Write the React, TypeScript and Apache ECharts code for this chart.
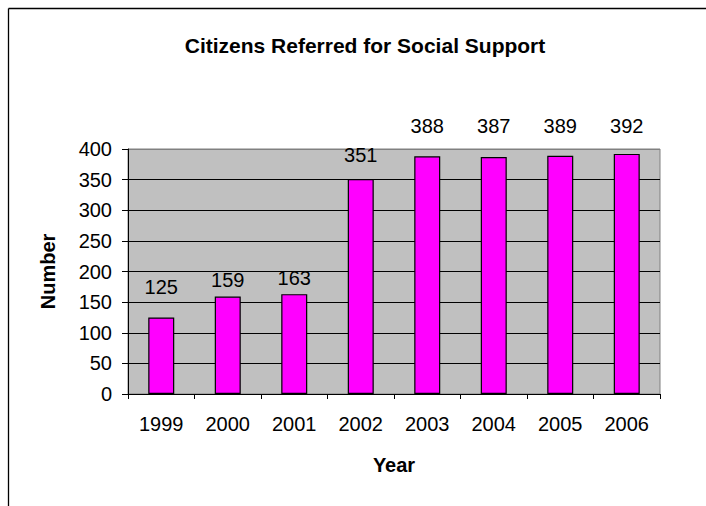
import React, { useEffect, useRef } from "react";
import * as echarts from "echarts";

const title = "Citizens Referred for Social Support";
const years = ["1999", "2000", "2001", "2002", "2003", "2004", "2005", "2006"];
const referred = [125, 159, 163, 351, 388, 387, 389, 392];
const yTicks = { min: 0, max: 400, interval: 50 };
const xName = "Year";
const yName = "Number";

// extra upward shift of each value label (styling, as in the original picture)
const labelLift = [15, 2, 1, 9, 15, 16, 15, 13];

const FONT = "Arial, 'Liberation Sans', sans-serif";

export default function App() {
  const ref = useRef<HTMLDivElement>(null);
  useEffect(() => {
    if (!ref.current) return;
    const chart = echarts.init(ref.current, null, { renderer: "svg" });
    const splitColors = [] as string[];
    const nLines = (yTicks.max - yTicks.min) / yTicks.interval + 1;
    for (let i = 0; i < nLines; i++) splitColors.push(i === nLines - 1 ? "#808080" : "#000000");
    chart.setOption({
      animation: false,
      backgroundColor: "#ffffff",
      textStyle: { fontFamily: FONT },
      title: {
        text: title,
        left: 360,
        textAlign: "center",
        top: 30,
        textStyle: { fontFamily: FONT, fontSize: 21, fontWeight: "bold", color: "#000" },
      },
      grid: {
        left: 128,
        top: 149,
        width: 532,
        height: 245,
        show: true,
        backgroundColor: "#C0C0C0",
        borderColor: "#808080",
        borderWidth: 1,
      },
      xAxis: {
        type: "category",
        data: years,
        name: xName,
        nameLocation: "middle",
        nameGap: 61,
        nameTextStyle: { fontFamily: FONT, fontSize: 20, fontWeight: "bold", color: "#000" },
        axisLine: { lineStyle: { color: "#000", width: 1 } },
        axisTick: { show: true, length: 5, lineStyle: { color: "#000" } },
        axisLabel: { margin: 20, fontSize: 20, color: "#000", fontFamily: FONT },
        splitLine: { show: false },
      },
      yAxis: {
        type: "value",
        min: yTicks.min,
        max: yTicks.max,
        interval: yTicks.interval,
        name: yName,
        nameLocation: "middle",
        nameGap: 70,
        nameTextStyle: { fontFamily: FONT, fontSize: 20, fontWeight: "bold", color: "#000" },
        axisLine: { show: true, lineStyle: { color: "#000", width: 1 } },
        axisTick: { show: true, length: 6, lineStyle: { color: "#000" } },
        axisLabel: { margin: 16, fontSize: 20, color: "#000", fontFamily: FONT },
        splitLine: { show: true, lineStyle: { color: splitColors, width: 1 } },
      },
      series: [
        {
          type: "bar",
          data: referred.map((v, i) => ({
            value: v,
            label: { offset: [0, -labelLift[i]] },
          })),
          barWidth: 26,
          itemStyle: { color: "#FF00FF", borderColor: "#000", borderWidth: 1.2 },
          label: {
            show: true,
            position: "top",
            distance: 5,
            fontSize: 20,
            color: "#000",
            fontFamily: FONT,
          },
        },
      ],
      graphic: [
        {
          type: "line",
          shape: { x1: 8.5, y1: 8.5, x2: 8.5, y2: 520 },
          style: { stroke: "#000", lineWidth: 1.3 },
          silent: true,
        },
        {
          type: "line",
          shape: { x1: 8.5, y1: 8.5, x2: 720, y2: 8.5 },
          style: { stroke: "#000", lineWidth: 1.3 },
          silent: true,
        },
      ],
    });
    return () => chart.dispose();
  }, []);
  return (
    <div
      ref={ref}
      style={{ position: "fixed", left: 0, top: 0, width: 706, height: 506 }}
    />
  );
}
